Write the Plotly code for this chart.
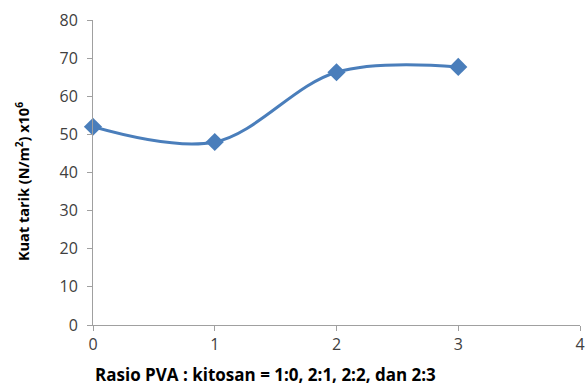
import plotly.graph_objects as go

x_vals = [0, 1, 2, 3]
kuat_tarik = [52.0, 48.0, 66.3, 67.7]
y_ticks = [0, 10, 20, 30, 40, 50, 60, 70, 80]
x_ticks = [0, 1, 2, 3, 4]
x_title = "<b>Rasio PVA : kitosan = 1:0, 2:1, 2:2, dan 2:3</b>"
y_title = "<b>Kuat tarik (N/m<sup>2</sup>) x10<sup>6</sup></b>"

fig = go.Figure()
fig.add_trace(go.Scatter(
    x=x_vals, y=kuat_tarik, mode="lines+markers",
    line=dict(color="#4a7ebb", width=3, shape="spline", smoothing=1.0),
    marker=dict(symbol="diamond", size=14, color="#4a7ebb"),
    showlegend=False, cliponaxis=False,
))

axis_common = dict(
    showgrid=False, zeroline=False, showline=True, linecolor="#a0a0a0", linewidth=1,
    ticks="outside", tickcolor="#a0a0a0", ticklen=5,
    tickfont=dict(family="Open Sans, sans-serif", size=16, color="#404040"),
)

fig.update_layout(
    width=588, height=387,
    margin=dict(l=93, r=8, t=20, b=62, autoexpand=False),
    plot_bgcolor="white", paper_bgcolor="white",
    xaxis=dict(range=[0, 4], tickvals=x_ticks, **axis_common),
    yaxis=dict(range=[0, 80], tickvals=y_ticks, ticklabelstandoff=6, **axis_common),
    annotations=[
        dict(text=x_title, xref="paper", yref="paper", x=0.0, y=-0.163,
             xanchor="left", yanchor="middle", showarrow=False,
             font=dict(family="Open Sans, sans-serif", size=17, color="#000")),
        dict(text=y_title, xref="paper", yref="paper", x=-0.145, y=0.47,
             xanchor="center", yanchor="middle", textangle=-90, showarrow=False,
             font=dict(family="Open Sans, sans-serif", size=14.5, color="#000")),
    ],
)

fig.write_html("out.html", config={"displayModeBar": False},
               post_script="document.body.style.margin='0';")
